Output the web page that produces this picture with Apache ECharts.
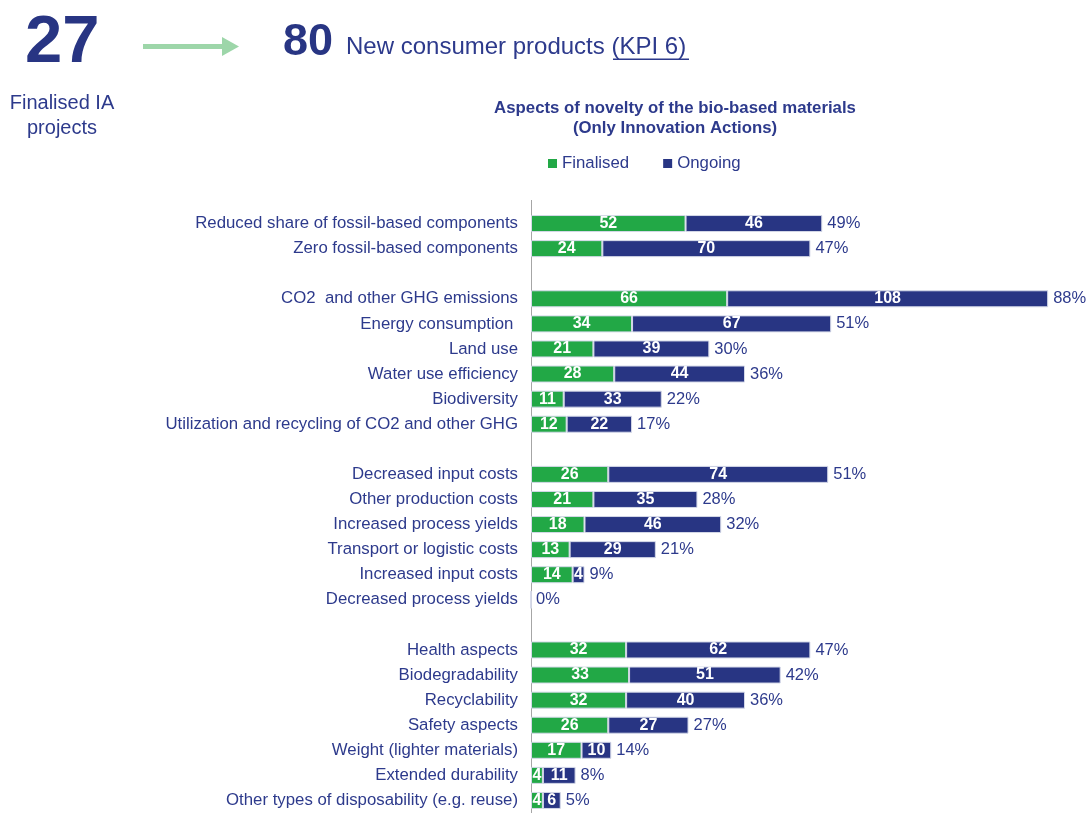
<!DOCTYPE html>
<html>
<head>
<meta charset="utf-8">
<script src="https://cdn.jsdelivr.net/npm/echarts@6/dist/echarts.min.js"></script>
<style>
html,body{margin:0;padding:0;background:#fff;}
#main{width:1088px;height:813px;}
</style>
</head>
<body>
<div id="main"></div>
<script>
const categories = [
  'Reduced share of fossil-based components',
  'Zero fossil-based components',
  ' ',
  'CO2  and other GHG emissions',
  'Energy consumption ',
  'Land use',
  'Water use efficiency',
  'Biodiversity',
  'Utilization and recycling of CO2 and other GHG',
  '  ',
  'Decreased input costs',
  'Other production costs',
  'Increased process yields',
  'Transport or logistic costs',
  'Increased input costs',
  'Decreased process yields',
  '   ',
  'Health aspects',
  'Biodegradability',
  'Recyclability',
  'Safety aspects',
  'Weight (lighter materials)',
  'Extended durability',
  'Other types of disposability (e.g. reuse)'
];
const finalised = [52, 24, null, 66, 34, 21, 28, 11, 12, null, 26, 21, 18, 13, 14, 0, null, 32, 33, 32, 26, 17, 4, 4];
const ongoing   = [46, 70, null, 108, 67, 39, 44, 33, 22, null, 74, 35, 46, 29, 4, 0, null, 62, 51, 40, 27, 10, 11, 6];
const percent   = [49, 47, null, 88, 51, 30, 36, 22, 17, null, 51, 28, 32, 21, 9, 0, null, 47, 42, 36, 27, 14, 8, 5];

const GREEN = '#22a846';
const NAVY = '#283583';
const TEXT = '#2d3a8c';
const FONT = '"Liberation Sans", Arial, sans-serif';

const totals = finalised.map((f, i) => (f === null ? null : f + ongoing[i]));

const chart = echarts.init(document.getElementById('main'), null, {renderer: 'canvas'});

const segLabel = {
  show: true,
  position: 'inside',
  color: '#fff',
  fontWeight: 'bold',
  fontSize: 16,
  fontFamily: FONT,
  formatter: p => (p.value ? String(p.value) : '')
};

function txt(text, x, y, font, align, fill) {
  return {type: 'text', style: {text: text, x: x, y: y, font: font, fill: fill || TEXT,
    align: align, verticalAlign: 'middle', textAlign: align, textVerticalAlign: 'middle'}};
}

chart.setOption({
  animation: false,
  backgroundColor: '#ffffff',
  textStyle: {fontFamily: FONT},
  graphic: [
    txt('27', 25, 44, 'bold 67px ' + FONT, 'left', NAVY),
    txt('Finalised IA', 62, 103, '20px ' + FONT, 'center'),
    txt('projects', 62, 128, '20px ' + FONT, 'center'),
    {type: 'rect', shape: {x: 143, y: 44, width: 80, height: 5}, style: {fill: '#9dd6a9'}},
    {type: 'polygon', shape: {points: [[222, 37], [239, 46.5], [222, 56]]}, style: {fill: '#9dd6a9'}},
    txt('80', 283, 43, 'bold 45px ' + FONT, 'left', NAVY),
    txt('New consumer products (KPI 6)', 346, 47, '24px ' + FONT, 'left'),
    {type: 'rect', shape: {x: 613, y: 58.5, width: 76, height: 1.5}, style: {fill: TEXT}},
    txt('Aspects of novelty of the bio-based materials', 675, 108, 'bold 16.8px ' + FONT, 'center'),
    txt('(Only Innovation Actions)', 675, 128, 'bold 16.8px ' + FONT, 'center'),
    {type: 'line', shape: {x1: 531.5, y1: 200, x2: 531.5, y2: 212}, style: {stroke: '#a6a6a6', lineWidth: 1}}
  ],
  legend: {
    data: ['Finalised', 'Ongoing'],
    left: 543,
    top: 150,
    icon: 'rect',
    itemWidth: 9,
    itemHeight: 9,
    itemGap: 34,
    itemStyle: {borderWidth: 0},
    textStyle: {color: TEXT, fontSize: 16.8, fontFamily: FONT},
    selectedMode: false
  },
  grid: {left: 531, top: 211, width: 535, height: 606, containLabel: false},
  xAxis: {
    type: 'value',
    min: 0,
    max: 180,
    show: false
  },
  yAxis: {
    type: 'category',
    data: categories,
    inverse: true,
    axisLine: {show: true, lineStyle: {color: '#a6a6a6', width: 1}},
    axisTick: {show: false},
    splitLine: {show: false},
    axisLabel: {color: TEXT, fontSize: 16.8, fontFamily: FONT, margin: 13, interval: 0}
  },
  series: [
    {
      name: 'Total',
      type: 'bar',
      data: totals,
      barWidth: 17,
      barGap: '-100%',
      itemStyle: {color: 'rgba(0,0,0,0)'},
      label: {
        show: true,
        position: 'right',
        distance: 5,
        color: TEXT,
        fontSize: 16.5,
        fontFamily: FONT,
        formatter: p => (percent[p.dataIndex] === null ? '' : percent[p.dataIndex] + '%')
      },
      z: 1,
      silent: true
    },
    {
      name: 'Finalised',
      type: 'bar',
      stack: 'total',
      data: finalised,
      barWidth: 17,
      itemStyle: {color: GREEN, borderColor: '#d4d8e8', borderWidth: 1},
      label: segLabel,
      z: 2
    },
    {
      name: 'Ongoing',
      type: 'bar',
      stack: 'total',
      data: ongoing,
      barWidth: 17,
      itemStyle: {color: NAVY, borderColor: '#d4d8e8', borderWidth: 1},
      label: segLabel,
      z: 2
    }
  ]
});
</script>
</body>
</html>
